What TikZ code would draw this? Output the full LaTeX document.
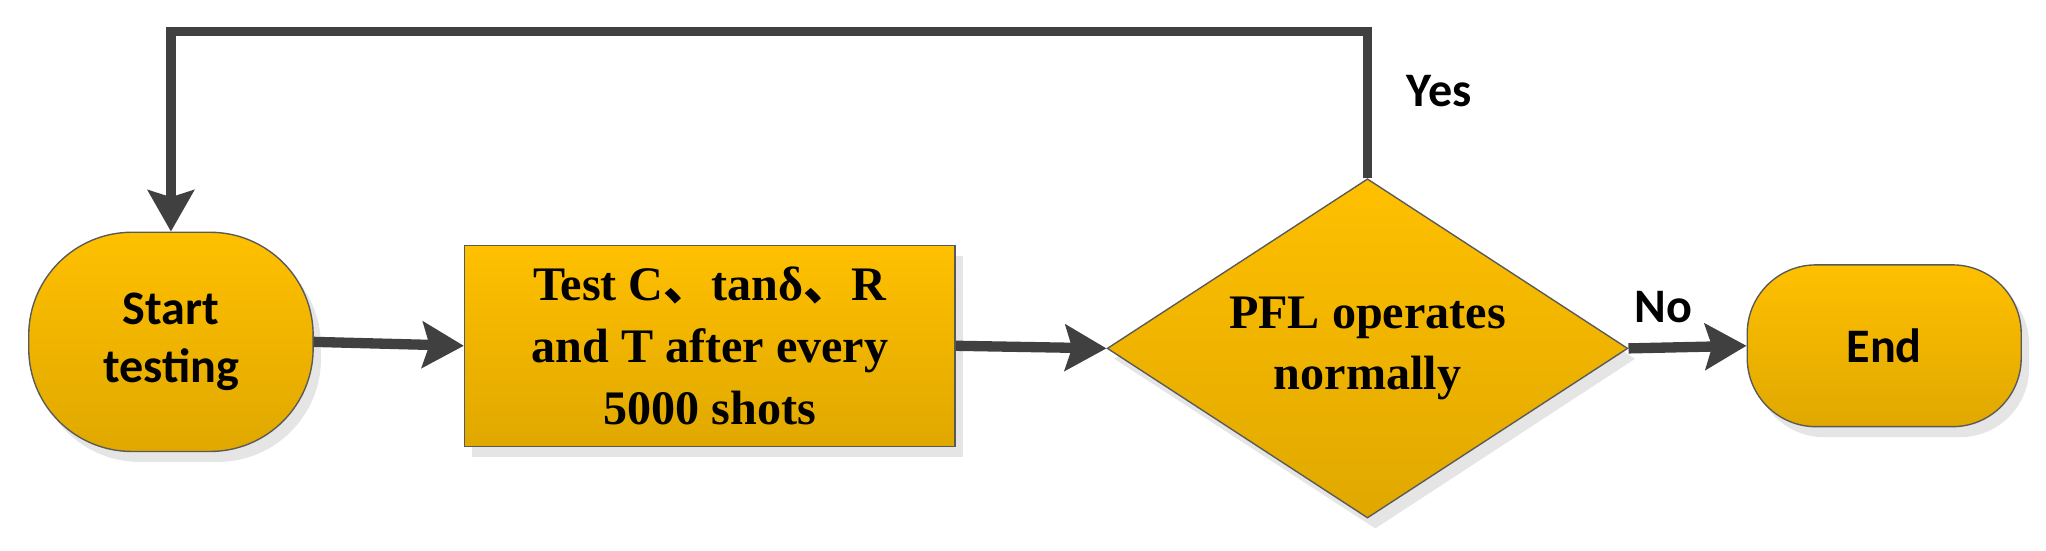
\documentclass[tikz,border=0pt]{standalone}
\usepackage{fontspec}
\setmainfont{Liberation Serif}
\newfontfamily\calfont{Carlito}
\newfontfamily\cjkfont{Noto Sans CJK SC}
\usetikzlibrary{arrows.meta,shapes.geometric,calc}
\definecolor{ln}{HTML}{404040}
\definecolor{gtop}{RGB}{255,192,0}
\definecolor{gbot}{RGB}{224,168,0}
\tikzset{
 fillg/.style={top color=gtop, bottom color=gbot, draw=gray!70!black, line width=0.6pt},
 arr/.style={line width=4.5pt, draw=ln, -{Stealth[length=18pt,width=20pt,inset=3pt]}},
 lab/.style={font=\calfont\bfseries\fontsize{21}{25}\selectfont},
}
\begin{document}
\begin{tikzpicture}[x=0.02cm,y=-0.02cm]
\useasboundingbox (0,0) rectangle (1568,422);
% shadows
\fill[black!10, rounded corners=45pt] (28,186) rectangle (246,354);
\fill[black!10] (362,196) rectangle (738,350);
\fill[black!10] (1054,145) -- (1253,275) -- (1054,405) -- (854,275) -- cycle;
\fill[black!10, rounded corners=30pt] (1345,211) rectangle (1555,335);
% nodes
\node[fillg, rounded corners=45pt, minimum width=218*0.02cm, minimum height=168*0.02cm, lab, align=center] (s) at (131,262) {Start\\testing};
\node[fillg, rectangle, minimum width=376*0.02cm, minimum height=154*0.02cm, font=\bfseries\fontsize{21}{27}\selectfont, align=center] (t) at (544,265) {Test C{\cjkfont 、}tanδ{\cjkfont 、}R\\and T after every\\5000 shots};
\node[fillg, diamond, aspect=1.535, inner sep=0pt, minimum width=399*0.02cm, minimum height=260*0.02cm, font=\bfseries\fontsize{21}{27}\selectfont, align=center] (d) at (1048,267) {PFL operates\\normally};
\node[fillg, rounded corners=30pt, minimum width=210*0.02cm, minimum height=124*0.02cm, lab] (e) at (1444,265) {End};
% connectors
\draw[arr] (s.east) -- (t.west);
\draw[arr] (t.east) -- (d.west);
\draw[arr] (d.east) -- (e.west);
\coordinate (c1) at (1048,24);
\coordinate (c2) at (131,24);
\draw[line width=4pt, draw=ln, line join=miter, -{Stealth[length=18pt,width=20pt,inset=3pt]}] (d.north) -- (c1) -- (c2) -- (s.north);
\node[lab] (yes) at (1103,70) {Yes};
\node[lab] (no) at (1275,235) {No};
\end{tikzpicture}
\end{document}
